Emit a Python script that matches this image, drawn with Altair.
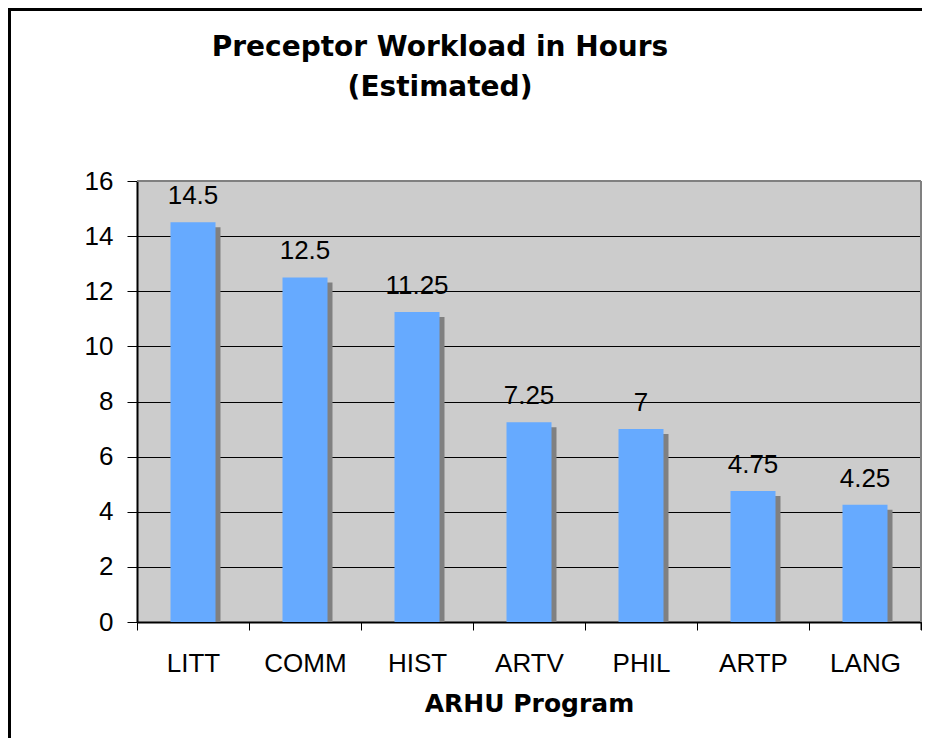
import altair as alt
import pandas as pd

programs = ["LITT", "COMM", "HIST", "ARTV", "PHIL", "ARTP", "LANG"]
hours = [14.5, 12.5, 11.25, 7.25, 7, 4.75, 4.25]
y_ticks = [0, 2, 4, 6, 8, 10, 12, 14, 16]

df = pd.DataFrame({"program": programs, "hours": hours})

W, H = 784, 441
PAD_L, PAD_T, PAD_R, PAD_B = 129, 173, 1, 116
LABEL_FONT = "Liberation Sans"
BOLD_FONT = "DejaVu Sans"
LABEL_SIZE = 26

x_enc = alt.X(
    "program:N",
    sort=programs,
    scale=alt.Scale(paddingInner=0, paddingOuter=0),
    axis=alt.Axis(
        title="ARHU Program",
        tickBand="extent",
        labelAngle=0,
        labelFont=LABEL_FONT,
        labelFontSize=LABEL_SIZE,
        labelColor="black",
        labelPadding=20,
        tickSize=8,
        tickColor="black",
        domainColor="black",
        domainWidth=2,
        titleFont=BOLD_FONT,
        titleFontSize=25,
        titleFontWeight="bold",
        titleColor="black",
        titlePadding=15,
        grid=False,
    ),
)
y_enc = alt.Y(
    "hours:Q",
    scale=alt.Scale(domain=[0, 16], nice=False),
    axis=alt.Axis(
        values=y_ticks,
        title=None,
        labelFont=LABEL_FONT,
        labelFontSize=LABEL_SIZE,
        labelColor="black",
        labelPadding=14,
        tickSize=10,
        tickColor="black",
        domainColor="black",
        domainWidth=2,
        grid=True,
        gridColor="black",
        gridWidth=1,
    ),
)

base = alt.Chart(df)

shadow = base.mark_bar(size=45, color="#808080", xOffset=5, yOffset=5, clip=True).encode(
    x=x_enc, y=y_enc
)
bars = base.mark_bar(size=45, color="#66AAFF").encode(x=x_enc, y=y_enc)
labels = base.mark_text(
    dy=-18, baseline="alphabetic", font=LABEL_FONT, fontSize=LABEL_SIZE, color="black"
).encode(x=x_enc, y=y_enc, text=alt.Text("hours:Q"))

frame_df = pd.DataFrame({"k": [0]})
frame = alt.Chart(frame_df)
top_border = frame.mark_rule(color="#808080", strokeWidth=2).encode(
    x=alt.value(0), x2=alt.value(W), y=alt.value(0)
)
right_border = frame.mark_rule(color="#808080", strokeWidth=2).encode(
    x=alt.value(W), y=alt.value(0), y2=alt.value(H)
)
end_tick = frame.mark_rule(color="black", strokeWidth=1).encode(
    x=alt.value(W), y=alt.value(H), y2=alt.value(H + 8)
)
outer_left = frame.mark_rule(color="black", strokeWidth=3).encode(
    x=alt.value(-PAD_L + 1.5), y=alt.value(-PAD_T), y2=alt.value(H + PAD_B)
)
outer_top = frame.mark_rule(color="black", strokeWidth=3).encode(
    x=alt.value(-PAD_L), x2=alt.value(W + PAD_R), y=alt.value(-PAD_T + 1.5)
)

chart = (
    alt.layer(shadow, bars, labels, top_border, right_border, end_tick, outer_left, outer_top)
    .properties(
        width=W,
        height=H,
        autosize=alt.AutoSizeParams(type="none"),
        padding={"left": PAD_L, "top": PAD_T, "right": PAD_R, "bottom": PAD_B},
        background="white",
        title=alt.TitleParams(
            text=["Preceptor Workload in Hours", "(Estimated)"],
            font=BOLD_FONT,
            fontSize=28,
            fontWeight="bold",
            color="black",
            anchor="middle",
            frame="group",
            dx=-89,
            offset=-95,
            lineHeight=40,
        ),
    )
    .configure_view(fill="#CCCCCC", stroke=None)
)

chart.save("out.html", embed_options={"renderer": "svg", "actions": False})
